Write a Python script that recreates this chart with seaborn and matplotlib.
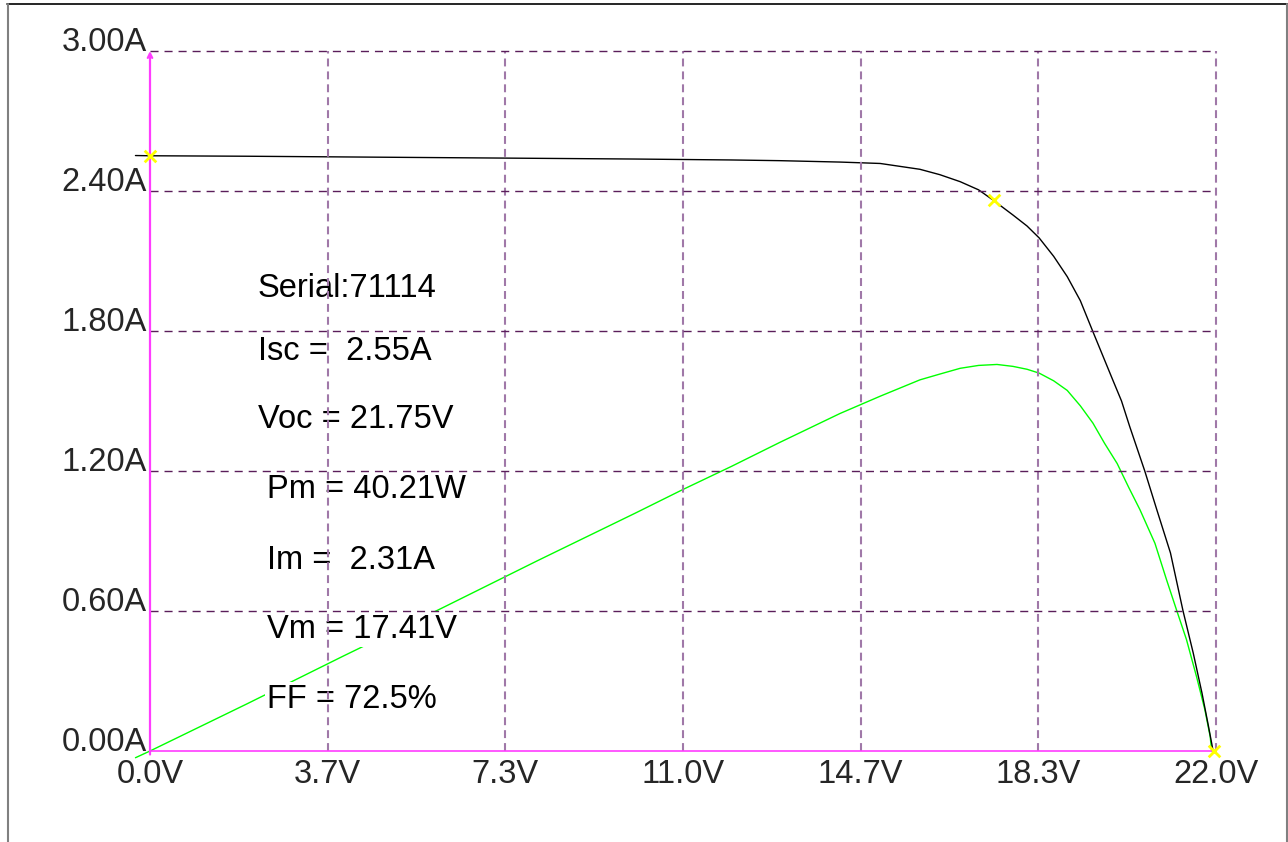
import numpy as np
import pandas as pd
import matplotlib.pyplot as plt
from matplotlib.lines import Line2D
import seaborn as sns

# I-V curve (volts, amps)
volts_iv = [-0.3, 0.0, 2.0, 4.0, 6.0, 8.0, 10.0, 12.0, 13.0, 14.24, 15.07, 15.89, 16.3, 16.72,
            17.1, 17.4, 17.81, 18.1, 18.35, 18.65, 18.93, 19.2, 19.46, 19.87, 20.05, 20.22,
            20.53, 20.78, 21.06, 21.32, 21.53, 21.71, 21.84, 21.91, 21.94]
amps_iv = [2.552, 2.551, 2.549, 2.546, 2.543, 2.540, 2.537, 2.533, 2.530, 2.524, 2.518, 2.493,
           2.470, 2.440, 2.405, 2.361, 2.297, 2.250, 2.199, 2.120, 2.033, 1.930, 1.797, 1.590,
           1.500, 1.390, 1.200, 1.033, 0.849, 0.600, 0.420, 0.249, 0.111, 0.034, 0.0]

# P-V curve (volts, watts)
volts_pv = [-0.3, 0.0, 2.0, 4.0, 6.0, 8.0, 10.0, 11.0, 12.0, 13.0, 14.24, 15.07, 15.89, 16.3,
            16.72, 17.1, 17.48, 17.81, 18.1, 18.35, 18.65, 18.93, 19.2, 19.46, 19.7, 19.96,
            20.2, 20.43, 20.74, 20.98, 21.19, 21.39, 21.6, 21.77, 21.88, 21.91]
watts_pv = [-0.7, 0.0, 4.9, 9.9, 14.8, 19.8, 24.7, 27.2, 29.6, 32.1, 35.1, 36.9, 38.6, 39.2,
            39.8, 40.1, 40.2, 40.0, 39.7, 39.3, 38.5, 37.5, 35.9, 34.1, 32.0, 29.9,
            27.4, 25.1, 21.6, 17.8, 14.6, 11.6, 7.7, 4.3, 1.5, 0.0]
watts_full_scale = 72.8  # power that maps to the top of the current axis

# yellow markers: Isc, max power point, open circuit end
mark_v = [0.0, 17.41, 21.96]
mark_i = [2.55, 2.36, 0.0]

x_ticks = [0.0, 22 / 6, 44 / 6, 11.0, 88 / 6, 110 / 6, 22.0]
x_labels = ['0.0V', '3.7V', '7.3V', '11.0V', '14.7V', '18.3V', '22.0V']
y_ticks = [0.0, 0.6, 1.2, 1.8, 2.4, 3.0]
y_labels = ['0.00A', '0.60A', '1.20A', '1.80A', '2.40A', '3.00A']

info_lines = ['Serial:71114', 'Isc =  2.55A', 'Voc = 21.75V', 'Pm = 40.21W',
              'Im =  2.31A', 'Vm = 17.41V', 'FF = 72.5%']
info_x = [2.21, 2.23, 2.23, 2.415, 2.415, 2.415, 2.415]
info_y = [1.946, 1.676, 1.384, 1.084, 0.78, 0.484, 0.184]

iv = pd.DataFrame({'V': volts_iv, 'I': amps_iv})
pv = pd.DataFrame({'V': volts_pv, 'P': watts_pv})
mk = pd.DataFrame({'V': mark_v, 'I': mark_i})

sns.set_style('white')
plt.rcParams['font.family'] = ['Liberation Sans', 'DejaVu Sans']

MAG = '#ff3cff'
FS = 23.5

fig = plt.figure(figsize=(12.88, 8.42), dpi=100)
rect = [150 / 1288, 91 / 842, 1066 / 1288, 700 / 842]

# power curve on its own (hidden) axes underneath
pax = fig.add_axes(rect)
sns.lineplot(data=pv, x='V', y='P', ax=pax, color='#00ff00', lw=1.0,
             sort=False, estimator=None)
for ln in pax.lines:
    ln.set_clip_on(False)
pax.set_xlim(0, 22)
pax.set_ylim(0, watts_full_scale)
pax.axis('off')

# main current axes on top
ax = fig.add_axes(rect)
ax.patch.set_alpha(0)
sns.lineplot(data=iv, x='V', y='I', ax=ax, color='black', lw=1.0,
             sort=False, estimator=None, zorder=1.5)
for ln in ax.lines:
    ln.set_clip_on(False)
sns.scatterplot(data=mk, x='V', y='I', ax=ax, marker='x', color='#ffff00',
                s=70, linewidth=2, zorder=4, clip_on=False)

ax.set_xlim(0, 22)
ax.set_ylim(0, 3.0)
ax.set_xticks(x_ticks)
ax.set_xticklabels(x_labels)
ax.set_yticks(y_ticks)
ax.set_yticklabels(y_labels, va='baseline')
ax.tick_params(axis='x', length=0, pad=6, labelsize=FS)
ax.tick_params(axis='y', length=0, pad=2, labelsize=FS)
ax.set_xlabel('')
ax.set_ylabel('')

ax.set_axisbelow(False)
ax.xaxis.grid(True, color='#a078a8', lw=1.5, ls=(0, (3.8, 2.4)))
ax.yaxis.grid(True, color='#5a1e5a', lw=1.0, ls=(0, (5.8, 4.3)))
for g in ax.xaxis.get_gridlines() + ax.yaxis.get_gridlines():
    g.set_clip_on(False)
ax.xaxis.get_gridlines()[0].set_visible(False)
ax.yaxis.get_gridlines()[0].set_visible(False)

for s in ['top', 'right', 'left']:
    ax.spines[s].set_visible(False)
ax.spines['bottom'].set_color(MAG)
ax.spines['bottom'].set_linewidth(1.2)
ax.spines['bottom'].set_zorder(3)
ax.annotate('', xy=(0, 3.0), xytext=(0, -0.015),
            arrowprops=dict(arrowstyle='->', color=MAG, lw=1.6, mutation_scale=8,
                            shrinkA=0, shrinkB=0),
            annotation_clip=False, zorder=3)

for txt, tx, ty in zip(info_lines, info_x, info_y):
    ax.text(tx, ty, txt, fontsize=FS, color='black', va='baseline', ha='left', zorder=2,
            bbox=dict(facecolor='white', edgecolor='none', pad=1.5))

# outer frame of the screenshot
fig.add_artist(Line2D([7 / 1288, 1], [1 - 4 / 842, 1 - 4 / 842], color='black', lw=1.2,
                      transform=fig.transFigure))
fig.add_artist(Line2D([8 / 1288, 8 / 1288], [0, 1 - 4 / 842], color='#808080', lw=1.5,
                      transform=fig.transFigure))
fig.add_artist(Line2D([1287 / 1288, 1287 / 1288], [0, 1 - 4 / 842], color='#808080', lw=1.5,
                      transform=fig.transFigure))

fig.savefig('out.png', dpi=100, facecolor='white')
